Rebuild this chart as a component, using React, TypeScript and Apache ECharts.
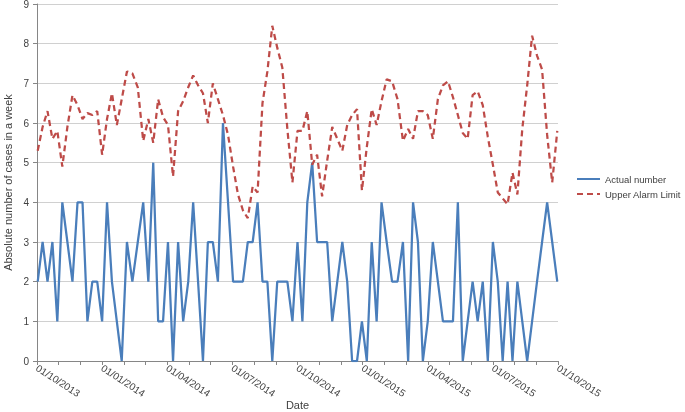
import React, { useEffect, useRef } from "react";
import * as echarts from "echarts";

const startDate = [2013, 10, 2]; // first weekly observation (y, m, d)
const tickLabels = [
  "01/10/2013", "01/01/2014", "01/04/2014", "01/07/2014", "01/10/2014",
  "01/01/2015", "01/04/2015", "01/07/2015", "01/10/2015",
];
const seriesNames = ["Actual number", "Upper Alarm Limit"];

const actualNumber = [
  2, 3, 2, 3, 1, 4, 3, 2, 4, 4,
  1, 2, 2, 1, 4, 2, 1, 0, 3, 2,
  3, 4, 2, 5, 1, 1, 3, 0, 3, 1,
  2, 4, 2, 0, 3, 3, 2, 6, 4, 2,
  2, 2, 3, 3, 4, 2, 2, 0, 2, 2,
  2, 1, 3, 1, 4, 5, 3, 3, 3, 1,
  2, 3, 2, 0, 0, 1, 0, 3, 1, 4,
  3, 2, 2, 3, 0, 4, 3, 0, 1, 3,
  2, 1, 1, 1, 4, 0, 1, 2, 1, 2,
  0, 3, 2, 0, 2, 0, 2, 1, 0, 1,
  2, 3, 4, 3, 2,
];

const upperAlarmLimit = [
  5.3, 5.9, 6.3, 5.6, 5.8, 4.9, 5.9, 6.7, 6.45, 6.1,
  6.25, 6.2, 6.3, 5.2, 6.1, 6.75, 5.95, 6.6, 7.3, 7.25,
  6.9, 5.55, 6.1, 5.5, 6.6, 6.15, 5.95, 4.65, 6.3, 6.55,
  6.9, 7.2, 6.95, 6.75, 6.0, 7.0, 6.6, 6.2, 5.7, 4.9,
  4.2, 3.8, 3.6, 4.4, 4.25, 6.5, 7.3, 8.45, 7.9, 7.4,
  5.85, 4.5, 5.8, 5.8, 6.3, 4.95, 5.2, 4.15, 5.05, 5.9,
  5.6, 5.3, 5.95, 6.2, 6.35, 4.3, 5.4, 6.35, 5.95, 6.55,
  7.1, 7.05, 6.6, 5.55, 5.85, 5.6, 6.3, 6.3, 6.2, 5.6,
  6.6, 6.95, 7.05, 6.65, 6.2, 5.75, 5.6, 6.7, 6.8, 6.45,
  5.65, 4.95, 4.25, 4.1, 3.95, 4.75, 4.2, 5.85, 6.95, 8.2,
  7.7, 7.35, 5.7, 4.5, 5.8,
];

// convert a date (UTC ms) to months elapsed since 01/10/2013
function monthsSinceStart(ms: number): number {
  const d = new Date(ms);
  const y = d.getUTCFullYear();
  const m = d.getUTCMonth(); // 0-based
  const day = d.getUTCDate();
  const dim = new Date(Date.UTC(y, m + 1, 0)).getUTCDate();
  return (y - 2013) * 12 + (m - 9) + (day - 1) / dim;
}

const weekDates = actualNumber.map((_, i) =>
  Date.UTC(startDate[0], startDate[1] - 1, startDate[2] + 7 * i)
);
const xs = weekDates.map(monthsSinceStart);

const FONT = "'Liberation Sans', Arial, sans-serif";

export default function App() {
  const ref = useRef<HTMLDivElement>(null);
  useEffect(() => {
    if (!ref.current) return;
    const chart = echarts.init(ref.current, null, { renderer: "svg" });
    chart.setOption({
      animation: false,
      textStyle: { fontFamily: FONT },
      grid: {
        left: 37,
        right: 127,
        top: 4,
        bottom: 51,
        containLabel: false,
        outerBoundsMode: "none",
      },
      legend: {
        orient: "vertical",
        left: 571,
        top: 169,
        itemWidth: 23,
        itemHeight: 8,
        itemGap: 5,
        itemStyle: { opacity: 0, borderWidth: 0 },
        textStyle: { fontSize: 9.5, color: "#404040", fontFamily: FONT },
        data: seriesNames,
      },
      xAxis: {
        type: "value",
        min: 0,
        max: 24,
        interval: 1,
        name: "Date",
        nameLocation: "middle",
        nameGap: 38,
        nameMoveOverlap: false,
        nameTextStyle: { fontSize: 11, color: "#404040", fontFamily: FONT },
        axisLine: { show: true, lineStyle: { color: "#868686", width: 1 } },
        axisTick: { show: true, length: 4, lineStyle: { color: "#868686" } },
        splitLine: { show: false },
        axisLabel: {
          rotate: -33,
          fontSize: 10,
          color: "#404040",
          margin: 6,
          showMinLabel: true,
          showMaxLabel: true,
          formatter: (v: number) => (v % 3 === 0 ? tickLabels[v / 3] : ""),
        },
      },
      yAxis: {
        type: "value",
        min: 0,
        max: 9,
        interval: 1,
        name: "Absolute number of cases in a week",
        nameLocation: "middle",
        nameGap: 24,
        nameMoveOverlap: false,
        nameTextStyle: { fontSize: 11, color: "#404040", fontFamily: FONT },
        axisLine: { show: true, lineStyle: { color: "#868686", width: 1 } },
        axisTick: { show: true, length: 4, lineStyle: { color: "#868686" } },
        splitLine: { show: true, lineStyle: { color: "#d0d0d0", width: 1 } },
        axisLabel: { fontSize: 10, color: "#404040", margin: 8 },
      },
      series: [
        {
          name: seriesNames[0],
          type: "line",
          symbol: "none",
          data: xs.map((x, i) => [x, actualNumber[i]]),
          lineStyle: { color: "#4a7ebb", width: 2.25 },
          itemStyle: { color: "#4a7ebb" },
        },
        {
          name: seriesNames[1],
          type: "line",
          symbol: "none",
          data: xs.map((x, i) => [x, upperAlarmLimit[i]]),
          lineStyle: { color: "#be4b48", width: 2.25, type: [6, 4] },
          itemStyle: { color: "#be4b48" },
        },
      ],
    });
    return () => chart.dispose();
  }, []);
  return (
    <div
      ref={ref}
      style={{ position: "fixed", left: 0, top: 0, width: 685, height: 412 }}
    />
  );
}
